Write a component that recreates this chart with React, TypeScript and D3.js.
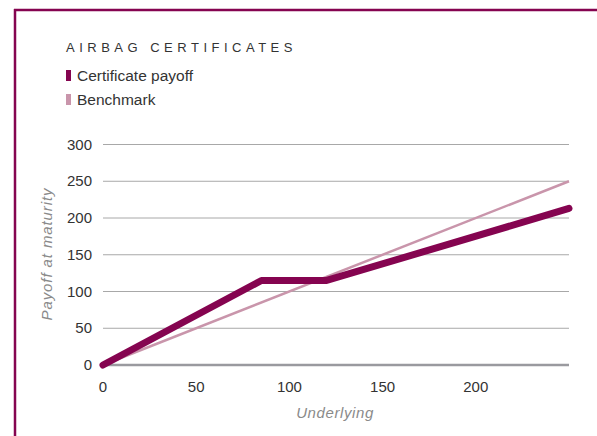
import React, { useRef, useEffect } from 'react';
import * as d3 from 'd3';

const underlying = [0, 85, 120, 250];
const certificatePayoff = [0, 115, 115, 213];
const benchmarkX = [0, 250];
const benchmarkY = [0, 250];
const yTicks = [0, 50, 100, 150, 200, 250, 300];
const xTicks = [0, 50, 100, 150, 200];

const DARK = '#850450';
const LIGHT = '#c995ab';

const App = () => {
  const svgRef = useRef<SVGSVGElement>(null);

  useEffect(() => {
    const svg = d3.select(svgRef.current);
    svg.selectAll('*').remove();
    const font = '"Liberation Sans", Arial, sans-serif';

    // frame
    svg.append('line').attr('x1', 14).attr('x2', 597).attr('y1', 10).attr('y2', 10)
      .attr('stroke', DARK).attr('stroke-width', 2.5);
    svg.append('line').attr('x1', 15).attr('x2', 15).attr('y1', 9).attr('y2', 436)
      .attr('stroke', DARK).attr('stroke-width', 2.5);

    svg.append('text').attr('x', 66).attr('y', 52).text('AIRBAG CERTIFICATES')
      .style('font-family', font).style('font-size', '13px').style('letter-spacing', '4.5px')
      .style('fill', '#333');

    const legend = [
      { name: 'Certificate payoff', color: DARK },
      { name: 'Benchmark', color: LIGHT },
    ];
    legend.forEach((d, i) => {
      const ly = 81 + i * 24;
      svg.append('rect').attr('x', 66).attr('y', ly - 11).attr('width', 5).attr('height', 11)
        .attr('fill', d.color);
      svg.append('text').attr('x', 77).attr('y', ly).text(d.name)
        .style('font-family', font).style('font-size', '15.5px').style('fill', '#333');
    });

    const x = d3.scaleLinear().domain([0, 250]).range([103, 569]);
    const y = d3.scaleLinear().domain([0, 300]).range([365, 144.5]);

    svg.append('g').selectAll('line').data(yTicks.filter(t => t > 0)).enter().append('line')
      .attr('x1', x(0)).attr('x2', x(250)).attr('y1', d => y(d)).attr('y2', d => y(d))
      .attr('stroke', '#a8a8a8').attr('stroke-width', 1);
    svg.append('line').attr('x1', x(0)).attr('x2', x(250)).attr('y1', y(0)).attr('y2', y(0))
      .attr('stroke', '#9a9a9f').attr('stroke-width', 2.5);

    svg.append('g').selectAll('text').data(yTicks).enter().append('text')
      .attr('x', 92).attr('y', d => y(d) + 5).attr('text-anchor', 'end').text(d => d)
      .style('font-family', font).style('font-size', '15px').style('fill', '#333');
    svg.append('g').selectAll('text').data(xTicks).enter().append('text')
      .attr('x', d => x(d)).attr('y', 392).attr('text-anchor', 'middle').text(d => d)
      .style('font-family', font).style('font-size', '15px').style('fill', '#333');

    svg.append('text').attr('transform', 'translate(52,254) rotate(-90)').attr('text-anchor', 'middle')
      .text('Payoff at maturity')
      .style('font-family', font).style('font-size', '15px').style('font-style', 'italic')
      .style('letter-spacing', '0.9px').style('fill', '#8a8a8a');
    svg.append('text').attr('x', 335).attr('y', 418).attr('text-anchor', 'middle')
      .text('Underlying')
      .style('font-family', font).style('font-size', '15px').style('font-style', 'italic')
      .style('letter-spacing', '0.6px').style('fill', '#8a8a8a');

    const path = d3.line<[number, number]>().x(d => x(d[0])).y(d => y(d[1]));
    svg.append('path').attr('d', path(benchmarkX.map((v, i) => [v, benchmarkY[i]] as [number, number])))
      .attr('fill', 'none').attr('stroke', LIGHT).attr('stroke-width', 2.5);
    svg.append('path').attr('d', path(underlying.map((v, i) => [v, certificatePayoff[i]] as [number, number])))
      .attr('fill', 'none').attr('stroke', DARK).attr('stroke-width', 7)
      .attr('stroke-linecap', 'round').attr('stroke-linejoin', 'round');
  }, []);

  return (
    <svg ref={svgRef} width={597} height={436}
      style={{ position: 'absolute', left: 0, top: 0, background: '#fff' }} />
  );
};

export default App;
